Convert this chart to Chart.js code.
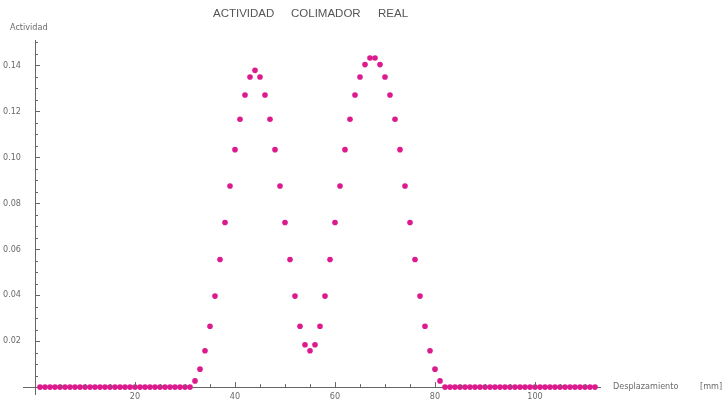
<!DOCTYPE html>
<html>
<head>
<meta charset="utf-8">
<script src="https://cdn.jsdelivr.net/npm/chart.js@4/dist/chart.umd.min.js"></script>
<style>
  body { margin: 0; background: #fff; }
  #wrap { width: 723px; height: 405px; }
</style>
</head>
<body>
<div id="wrap"><canvas id="chart"></canvas></div>
<script>
// data
const position = [
  1, 2, 3, 4, 5, 6, 7, 8, 9, 10, 11, 12, 13, 14, 15, 16, 17, 18, 19, 20,
  21, 22, 23, 24, 25, 26, 27, 28, 29, 30, 31, 32, 33, 34, 35, 36, 37, 38, 39, 40,
  41, 42, 43, 44, 45, 46, 47, 48, 49, 50, 51, 52, 53, 54, 55, 56, 57, 58, 59, 60,
  61, 62, 63, 64, 65, 66, 67, 68, 69, 70, 71, 72, 73, 74, 75, 76, 77, 78, 79, 80,
  81, 82, 83, 84, 85, 86, 87, 88, 89, 90, 91, 92, 93, 94, 95, 96, 97, 98, 99, 100,
  101, 102, 103, 104, 105, 106, 107, 108, 109, 110, 111, 112
]
const actividad = [
  0, 0, 0, 0, 0, 0, 0, 0, 0, 0, 0, 0, 0, 0, 0, 0, 0, 0, 0, 0,
  0, 0, 0, 0, 0, 0, 0, 0, 0, 0, 0, 0.0027, 0.0078, 0.0158, 0.0265, 0.0396, 0.0555, 0.0716, 0.0875, 0.1033,
  0.1165, 0.1271, 0.1349, 0.1378, 0.1349, 0.1271, 0.1165, 0.1033, 0.0875, 0.0716, 0.0555, 0.0396, 0.0265, 0.0184, 0.0158, 0.0184, 0.0265, 0.0396, 0.0555, 0.0716,
  0.0875, 0.1033, 0.1165, 0.1271, 0.1349, 0.1403, 0.1432, 0.1432, 0.1403, 0.1349, 0.1271, 0.1165, 0.1033, 0.0875, 0.0716, 0.0555, 0.0396, 0.0265, 0.0158, 0.0078,
  0.0027, 0, 0, 0, 0, 0, 0, 0, 0, 0, 0, 0, 0, 0, 0, 0, 0, 0, 0, 0,
  0, 0, 0, 0, 0, 0, 0, 0, 0, 0, 0, 0
]
const xTicks = [20, 40, 60, 80, 100]
const yTicks = [0.02, 0.04, 0.06, 0.08, 0.10, 0.12, 0.14]
const xMinorStep = 5
const yMinorStep = 0.005
const titleWords = ["ACTIVIDAD", "COLIMADOR", "REAL"]

const narrow = "'Liberation Sans Narrow', 'DejaVu Sans Condensed', 'Liberation Sans'"
const tickFont = { family: narrow, size: 9 }
const textColor = "#6a6a6a"

// inward major/minor ticks, y labels and the loose texts, mathematica style
// (y labels drawn here so their padding doesn't push the plot area up)
const axisDecor = {
  id: 'axisDecor',
  afterDraw(chart) {
    const c = chart.ctx
    const xs = chart.scales.x
    const ys = chart.scales.y
    const x0 = xs.getPixelForValue(0)
    const y0 = ys.getPixelForValue(0)
    c.save()
    c.strokeStyle = "#666"
    c.lineWidth = 1
    c.beginPath()
    for (let v = xMinorStep; v <= xs.max; v += xMinorStep) {
      const px = Math.round(xs.getPixelForValue(v)) + 0.5
      const len = v % 20 === 0 ? 5 : 3
      c.moveTo(px, y0)
      c.lineTo(px, y0 - len)
    }
    for (let i = 1; i * yMinorStep <= ys.max; i++) {
      const py = Math.round(ys.getPixelForValue(i * yMinorStep)) + 0.5
      const len = i % 4 === 0 ? 5 : 3
      c.moveTo(x0, py)
      c.lineTo(x0 + len, py)
    }
    c.stroke()

    c.textBaseline = "middle"
    c.fillStyle = textColor
    c.font = "9px " + narrow
    c.textAlign = "right"
    yTicks.forEach(v => c.fillText(v.toFixed(2), x0 - 14, ys.getPixelForValue(v)))

    c.textAlign = "left"
    c.fillText("Actividad", 10, 28)
    c.fillText("Desplazamiento", 613, y0)
    c.fillText("[mm]", 700, y0)

    c.fillStyle = "#555"
    c.font = "11.5px 'Liberation Sans'"
    const titleX = [213, 291, 378]
    titleWords.forEach((w, i) => c.fillText(w, titleX[i], 14))
    c.restore()
  }
}

const ctx = document.getElementById("chart")

new Chart(ctx, {
  type: "scatter",
  data: {
    datasets: [
      {
        label: "Actividad",
        data: position.map((p, i) => ({ x: p, y: actividad[i] })),
        backgroundColor: "#dd1a8d",
        borderColor: "#dd1a8d",
        pointRadius: 2.8,
        pointBorderWidth: 0,
      },
    ],
  },
  options: {
    responsive: true,
    maintainAspectRatio: false,
    animation: false,
    layout: {
      padding: { left: 23, right: 123, top: 40, bottom: 11 },
    },
    plugins: {
      legend: { display: false },
      tooltip: { enabled: false },
    },
    scales: {
      x: {
        type: "linear",
        position: { y: 0 },
        min: -2.4,
        max: 113,
        afterBuildTicks: (scale) => { scale.ticks = xTicks.map(v => ({ value: v })) },
        grid: { display: false, drawTicks: false },
        border: { color: "#666", width: 1 },
        ticks: {
          color: textColor,
          font: tickFont,
          padding: 4,
          maxRotation: 0,
          callback: (v) => String(v),
        },
      },
      y: {
        type: "linear",
        position: { x: 0 },
        min: -0.003,
        max: 0.151,
        afterBuildTicks: (scale) => { scale.ticks = yTicks.map(v => ({ value: v })) },
        grid: { display: false, drawTicks: false },
        border: { color: "#666", width: 1 },
        ticks: { display: false },
      },
    },
  },
  plugins: [axisDecor],
})
</script>
</body>
</html>
